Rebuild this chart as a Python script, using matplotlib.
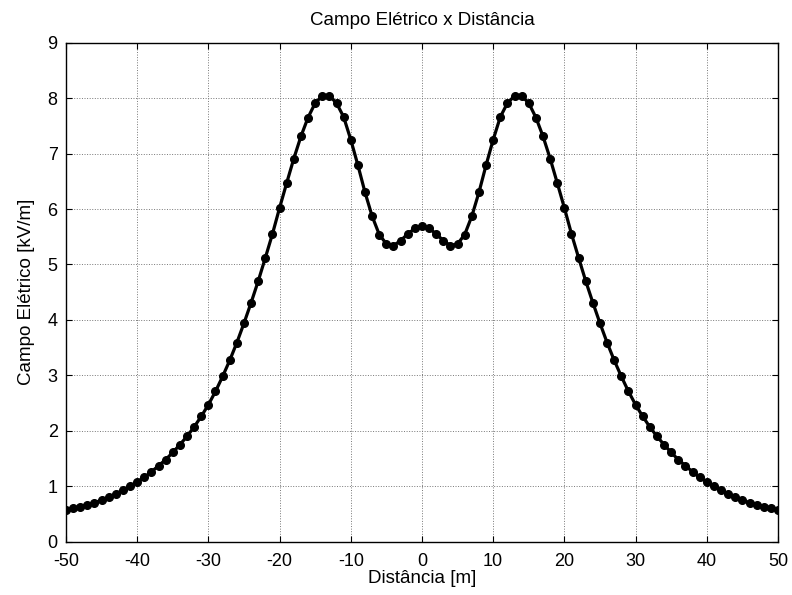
import numpy as np
import matplotlib
matplotlib.use("Agg")
from matplotlib import pyplot as plt

plt.rcParams['font.family'] = ['Liberation Sans', 'DejaVu Sans']

# distance from the line axis [m]
dist = np.arange(-50, 51)

# electric field at ground level [kV/m]
campo = [
    0.57, 0.60, 0.63, 0.67, 0.70, 0.75, 0.80, 0.86, 0.93, 1.00,
    1.08, 1.16, 1.26, 1.37, 1.48, 1.61, 1.75, 1.90, 2.07, 2.26,
    2.47, 2.71, 2.98, 3.27, 3.59, 3.94, 4.31, 4.70, 5.12, 5.55,
    6.02, 6.47, 6.91, 7.31, 7.65, 7.91, 8.04, 8.04, 7.91, 7.66,
    7.25, 6.79, 6.30, 5.87, 5.54, 5.37, 5.34, 5.43, 5.55, 5.65,
    5.69,
    5.65, 5.55, 5.43, 5.34, 5.37, 5.54, 5.87, 6.30, 6.79, 7.25,
    7.66, 7.91, 8.04, 8.04, 7.91, 7.65, 7.31, 6.91, 6.47, 6.02,
    5.55, 5.12, 4.70, 4.31, 3.94, 3.59, 3.27, 2.98, 2.71, 2.47,
    2.26, 2.07, 1.90, 1.75, 1.61, 1.48, 1.37, 1.26, 1.16, 1.08,
    1.00, 0.93, 0.86, 0.80, 0.75, 0.70, 0.67, 0.63, 0.60, 0.57,
]

xticks = np.arange(-50, 51, 10)
yticks = np.arange(0, 10, 1)

fig = plt.figure(figsize=(7.92, 5.95), dpi=100)
ax = fig.add_axes([0.0833, 0.0896, 0.899, 0.8387])

ax.plot(dist, campo, color='black', linewidth=2.3, marker='o', markersize=5.5)

ax.set_xlim(-50, 50)
ax.set_ylim(0, 9)
ax.set_xticks(xticks)
ax.set_yticks(yticks)
ax.set_xticklabels([str(t) for t in xticks])
ax.grid(True, linestyle=':', color='#777777', linewidth=0.7)
ax.tick_params(direction='in', length=4, width=0.8, top=True, right=True,
               labelsize=13)
ax.tick_params(axis='x', pad=8)
ax.tick_params(axis='y', pad=6)
for s in ax.spines.values():
    s.set_linewidth(1.0)

ax.set_title('Campo Elétrico x Distância', fontsize=13.5, pad=13)
ax.set_xlabel('Distância [m]', fontsize=13.5, labelpad=0)
ax.set_ylabel('Campo Elétrico [kV/m]', fontsize=13.5, labelpad=9)

fig.savefig('out.png', dpi=100)
